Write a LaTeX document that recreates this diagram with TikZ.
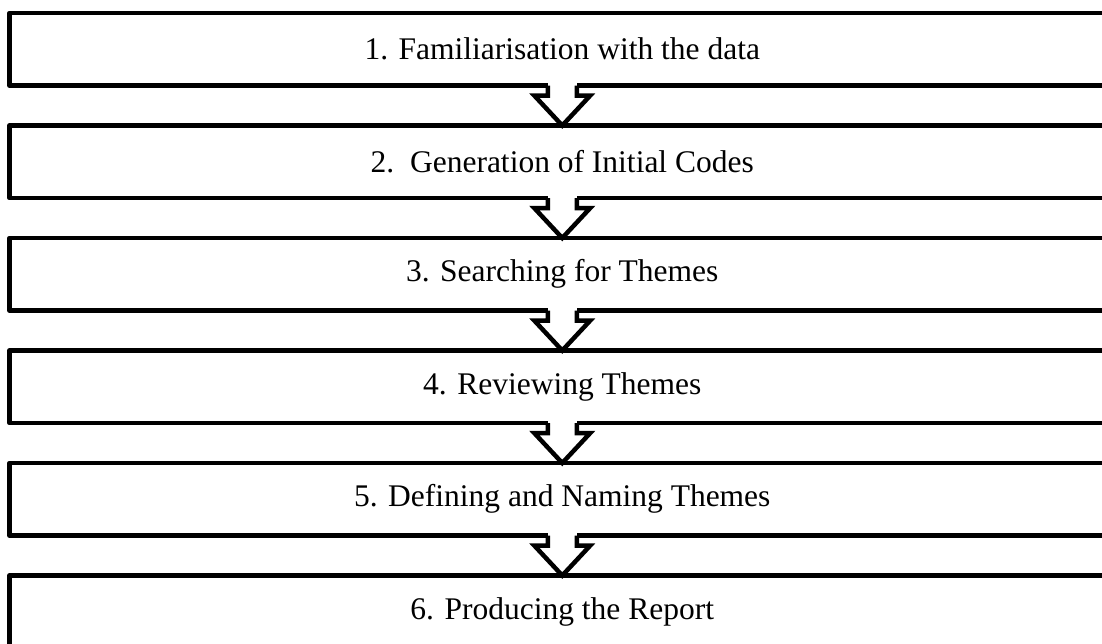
\documentclass[tikz,border=0pt]{standalone}
\usepackage{fontspec}
\setmainfont{Liberation Serif}
\usetikzlibrary{calc}

\tikzset{
  stage/.style={draw=black, line width=4.5pt, fill=white, rectangle, outer sep=0pt, inner sep=0pt,
    minimum width=1105.5pt, minimum height=72.5pt, line join=round,
    font=\fontsize{31.5}{36}\selectfont},
  blockarrow/.style={draw=black, line width=4.5pt, line join=miter},
}

% down-pointing block arrow from the bottom of #1 to the top of #2
\newcommand{\stagearrow}[2]{%
  \fill[white] ($(#1.south)+(-14.5,-3)$) rectangle ($(#1.south)+(14.5,10)$);
  \fill[white] ($(#1.south)+(-28,10)$) -- (#2.north) -- ($(#1.south)+(28,10)$) -- cycle;
  \fill[white] ($(#1.south)+(-12.25,-3)$) rectangle ($(#1.south)+(12.25,1)$);
  \draw[blockarrow] ($(#1.south)+(-14.5,0)$) -- ($(#1.south)+(-14.5,10)$)
    -- ($(#1.south)+(-28,10)$) -- (#2.north) -- ($(#1.south)+(28,10)$)
    -- ($(#1.south)+(14.5,10)$) -- ($(#1.south)+(14.5,0)$);
}

\begin{document}
\begin{tikzpicture}[x=1pt, y=-1pt]
  \useasboundingbox (0,0) rectangle (1102,643);
  \clip (0,0) rectangle (1102,643);

  \node[stage] (s1) at (562.25, 49.25) {1. Familiarisation with the data};
  \node[stage] (s2) at (562.25, 161.75) {2.\ \ Generation of Initial Codes};
  \node[stage] (s3) at (562.25, 274.25) {3. Searching for Themes};
  \node[stage] (s4) at (562.25, 386.75) {4. Reviewing Themes};
  \node[stage] (s5) at (562.25, 499.25) {5. Defining and Naming Themes};
  \node[stage] (s6) at (562.25, 611.75) {6. Producing the Report};

  \stagearrow{s1}{s2}
  \stagearrow{s2}{s3}
  \stagearrow{s3}{s4}
  \stagearrow{s4}{s5}
  \stagearrow{s5}{s6}
\end{tikzpicture}
\end{document}
